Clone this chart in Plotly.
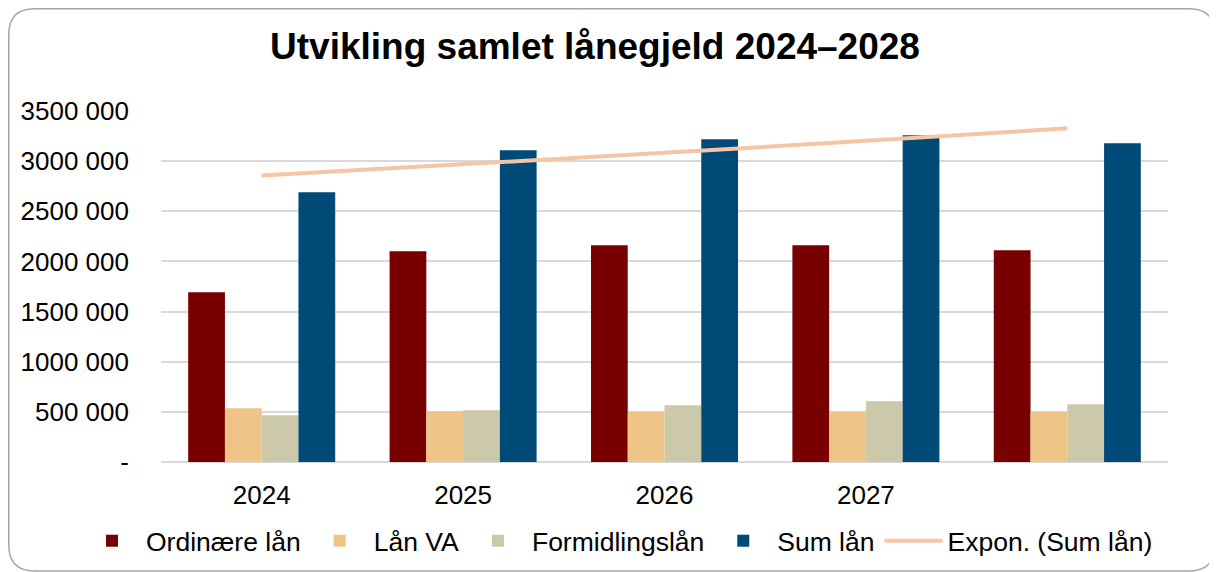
import numpy as np
import plotly.graph_objects as go

# ---- data ----
years = ["2024", "2025", "2026", "2027", "2028"]
x_labels = ["2024", "2025", "2026", "2027", ""]
ordinaere_lan = [1692000, 2101000, 2161000, 2161000, 2111000]
lan_va = [535000, 505000, 499000, 499000, 499000]
formidlingslan = [466000, 515000, 565000, 605000, 575000]
sum_lan = [2689000, 3108000, 3218000, 3258000, 3178000]
y_tickvals = [0, 500000, 1000000, 1500000, 2000000, 2500000, 3000000, 3500000]
y_ticktext = ["-", "500 000", "1000 000", "1500 000", "2000 000", "2500 000", "3000 000", "3500 000"]

# exponential trend line (Excel "Expon.") fitted to Sum lån
xi = np.arange(1, len(sum_lan) + 1)
b, a = np.polyfit(xi, np.log(sum_lan), 1)
trend = np.exp(a + b * xi)

FONT = "Liberation Sans, Arial, sans-serif"
W, H = 1217, 572
OFF = 8  # page body margin
ml, mr, mt, mb = 153, 57, 103, 118

colors = {
    "ord": "#790000",
    "va": "#EEC587",
    "form": "#CBC9A9",
    "sum": "#004A77",
    "trend": "#F7C5A4",
}

fig = go.Figure()
fig.add_trace(go.Bar(name="Ordinære lån", x=years, y=ordinaere_lan, marker_color=colors["ord"]))
fig.add_trace(go.Bar(name="Lån VA", x=years, y=lan_va, marker_color=colors["va"]))
fig.add_trace(go.Bar(name="Formidlingslån", x=years, y=formidlingslan, marker_color=colors["form"]))
fig.add_trace(go.Bar(name="Sum lån", x=years, y=sum_lan, marker_color=colors["sum"]))
fig.add_trace(go.Scatter(name="Expon. (Sum lån)", x=years, y=trend, mode="lines",
                         line=dict(color=colors["trend"], width=4)))

for tr in fig.data:
    if tr.type == "bar":
        tr.marker.line.width = 0

# pixel (figure coords) -> paper conversion
pw = W - ml - mr
ph = H - mt - mb
def px(x):
    return (x - ml) / pw
def py(y):
    return (H - mb - y) / ph

# rounded border around the whole chart
x0, x1, y0, y1, r = 0.75, 1207, 0.75, 563, 26
path = (
    f"M {px(x0 + r)},{py(y0)} L {px(x1 - r)},{py(y0)} "
    f"Q {px(x1)},{py(y0)} {px(x1)},{py(y0 + r)} "
    f"L {px(x1)},{py(y1 - r)} Q {px(x1)},{py(y1)} {px(x1 - r)},{py(y1)} "
    f"L {px(x0 + r)},{py(y1)} Q {px(x0)},{py(y1)} {px(x0)},{py(y1 - r)} "
    f"L {px(x0)},{py(y0 + r)} Q {px(x0)},{py(y0)} {px(x0 + r)},{py(y0)} Z"
)

fig.update_layout(
    width=W, height=H,
    margin=dict(l=ml, r=mr, t=mt, b=mb, autoexpand=False),
    paper_bgcolor="white", plot_bgcolor="white",
    barmode="group", bargap=0.27, bargroupgap=0,
    font=dict(family=FONT, color="#000000", size=26),
    title=dict(text="<b>Utvikling samlet lånegjeld 2024–2028</b>",
               xref="container", yref="container",
               x=(595 - OFF) / W, xanchor="center", y=1 - (46 - OFF) / H, yanchor="middle",
               font=dict(family=FONT, size=37, color="#000000")),
    xaxis=dict(type="category", tickvals=years, ticktext=x_labels,
               showgrid=False, showline=False, zeroline=False,
               ticks="", ticklabelstandoff=15,
               tickfont=dict(size=26, color="#000000")),
    yaxis=dict(range=[0, 3500000], tickvals=y_tickvals, ticktext=y_ticktext,
               showgrid=True, gridcolor="#D9D9D9", gridwidth=1.5,
               zeroline=True, zerolinecolor="#D9D9D9", zerolinewidth=1.5,
               showline=False, ticks="", ticklabelstandoff=31,
               tickfont=dict(size=26, color="#000000")),
    legend=dict(orientation="h", xref="paper", yref="paper",
                x=px(78 - OFF), xanchor="left",
                y=py(541 - OFF), yanchor="middle",
                font=dict(family=FONT, size=26.5, color="#000000"),
                bgcolor="rgba(0,0,0,0)", itemwidth=58,
                traceorder="normal"),
    shapes=[dict(type="path", xref="paper", yref="paper", path=path,
                 line=dict(color="#A6A6A6", width=1.5), fillcolor="rgba(0,0,0,0)",
                 layer="above")],
)

fig.write_html("out.html")
